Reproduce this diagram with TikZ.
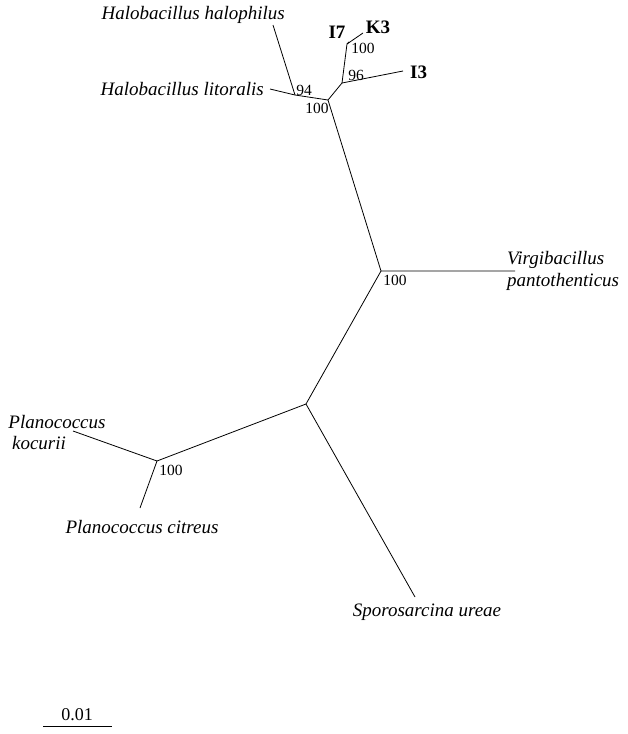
\documentclass[tikz,border=0pt]{standalone}
\usepackage{fontspec}
\setmainfont{Liberation Serif}
\begin{document}
\begin{tikzpicture}[x=1pt,y=-1pt,
  br/.style={line width=0.8pt},
  taxon/.style={font=\fontsize{19}{21}\selectfont\itshape,inner sep=0pt},
  strain/.style={font=\fontsize{19}{21}\selectfont\bfseries,inner sep=0pt},
  boot/.style={font=\fontsize{15.5}{17}\selectfont,inner sep=0pt},
  scl/.style={font=\fontsize{18}{20}\selectfont,inner sep=0pt}]
\useasboundingbox (0,0) rectangle (627,734);
% internal nodes
\coordinate (A) at (295,95);
\coordinate (B) at (328,100);
\coordinate (C) at (342,83);
\coordinate (D) at (347,44);
\coordinate (E) at (381,271);
\coordinate (F) at (306,404);
\coordinate (G) at (157,461);
% leaf ends
\coordinate (hal) at (273,25);
\coordinate (lit) at (270,89);
\coordinate (i7) at (349,42);
\coordinate (k3) at (363,33);
\coordinate (i3) at (403,71);
\coordinate (vir) at (515,271);
\coordinate (spo) at (415,597);
\coordinate (koc) at (73,431);
\coordinate (cit) at (140,508);
% branches
\draw[br] (hal) -- (A);
\draw[br] (lit) -- (A) -- (B) -- (C) -- (D) -- (k3);
\draw[br] (D) -- (i7);
\draw[br] (C) -- (i3);
\draw[br] (B) -- (E) -- (vir);
\draw[br] (E) -- (F) -- (spo);
\draw[br] (F) -- (G) -- (koc);
\draw[br] (G) -- (cit);
% taxa
\node[taxon,anchor=east] (thal) at (285,15) {Halobacillus halophilus};
\node[taxon,anchor=east] (tlit) at (264,89) {Halobacillus litoralis};
\node[strain] (ti7) at (337,32) {I7};
\node[strain] (tk3) at (378,27) {K3};
\node[strain,anchor=west] (ti3) at (410,72) {I3};
\node[taxon,anchor=west] (tvir) at (507,260) {Virgibacillus};
\node[taxon,anchor=west] (tpan) at (507,282) {pantothenticus};
\node[taxon] (tspo) at (427,612) {Sporosarcina ureae};
\node[taxon] (tpla) at (57,422) {Planococcus};
\node[taxon] (tkoc) at (39,443) {kocurii};
\node[taxon] (tcit) at (142,527) {Planococcus citreus};
% bootstrap values
\node[boot] (b94) at (304,90) {94};
\node[boot] (b100a) at (317,108) {100};
\node[boot] (b96) at (356,75) {96};
\node[boot] (b100b) at (363,48) {100};
\node[boot] (b100c) at (395,280) {100};
\node[boot] (b100d) at (171,470) {100};
% scale bar
\coordinate (s1) at (43,726);
\coordinate (s2) at (112,726);
\draw[br] (s1) -- (s2);
\node[scl] (scale) at (77,715) {0.01};
\end{tikzpicture}
\end{document}
